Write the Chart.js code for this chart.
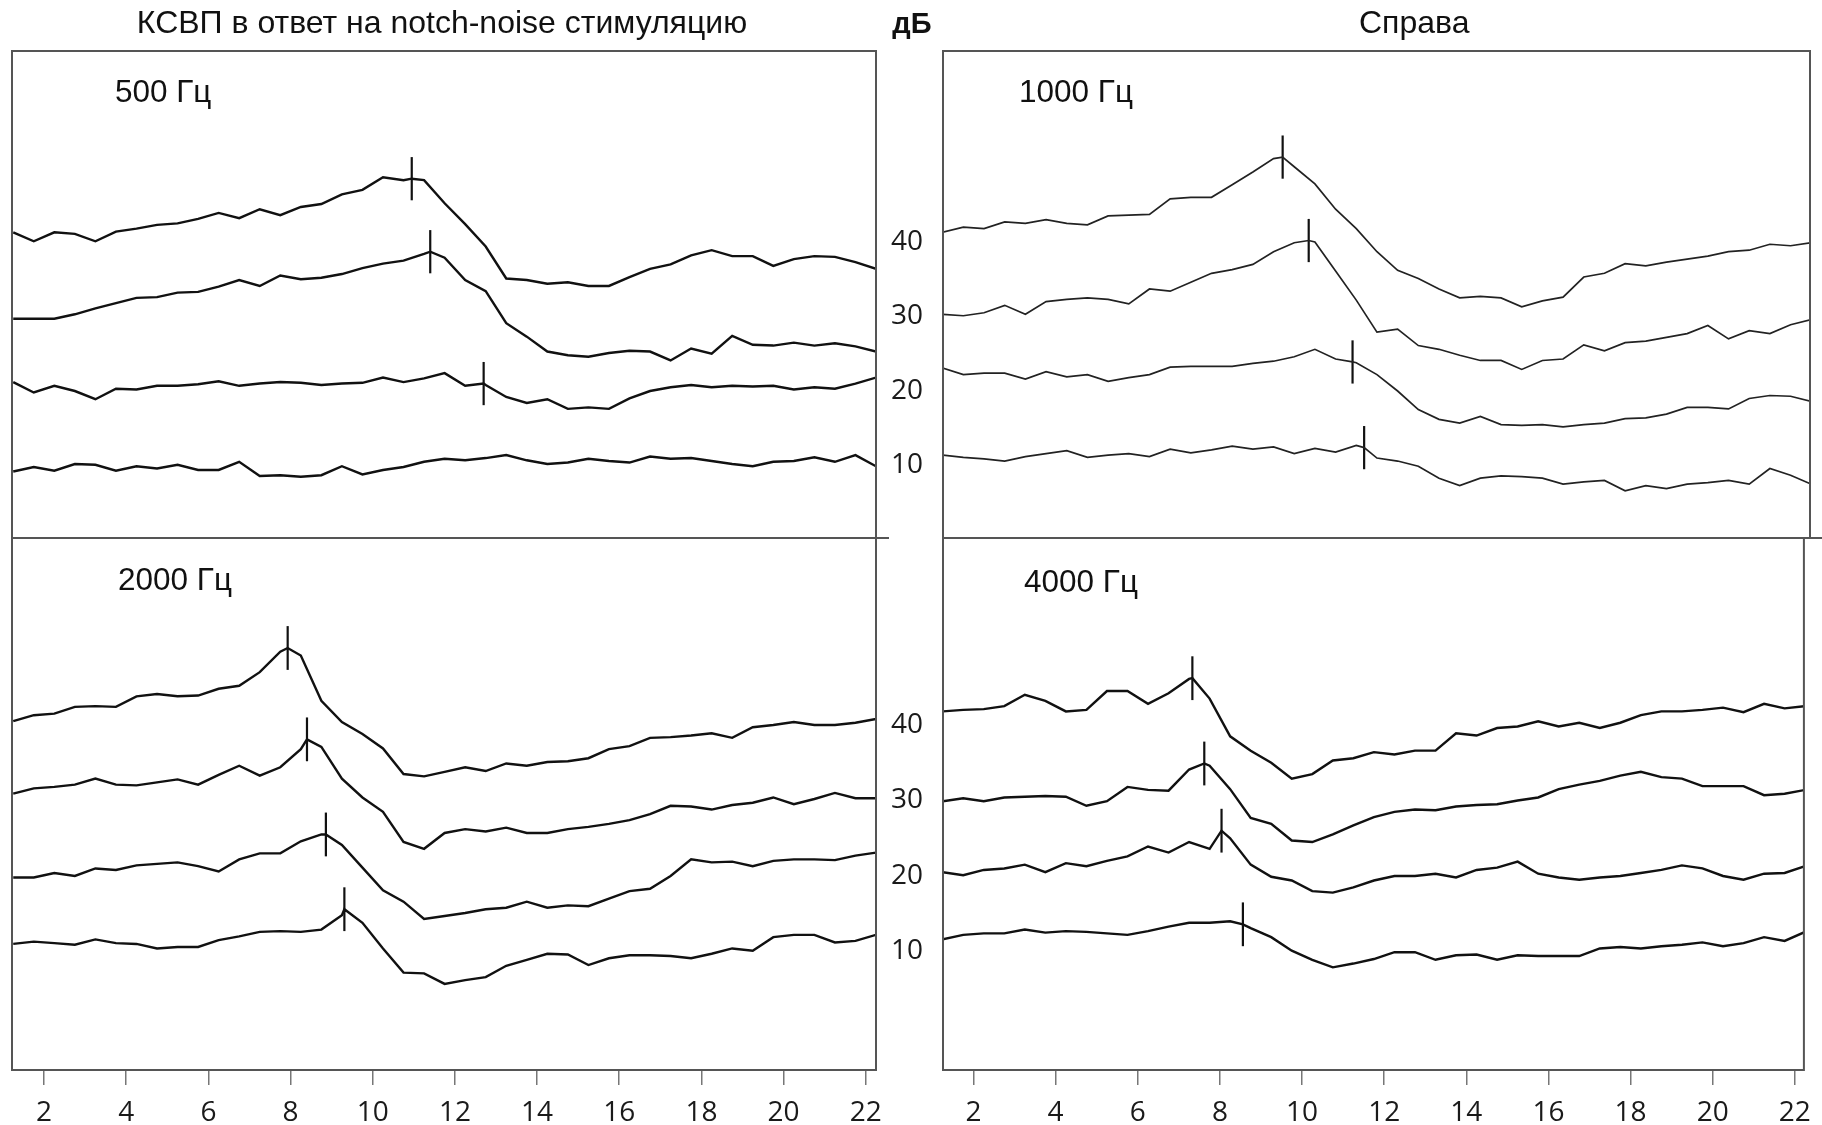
<!DOCTYPE html>
<html>
<head>
<meta charset="utf-8">
<script src="https://cdn.jsdelivr.net/npm/chart.js@4.4.1/dist/chart.umd.min.js"></script>
<style>
  html, body { margin: 0; padding: 0; background: #fff; }
  body { width: 1822px; height: 1125px; position: relative; overflow: hidden; font-family: "Liberation Sans", Arial, sans-serif; color: #111; }
  canvas { position: absolute; }
  .lbl { position: absolute; font-size: 32px; line-height: 32px; white-space: nowrap; }
  .hz { font-size: 31.5px; line-height: 31.5px; }
</style>
</head>
<body>
<canvas id="c500" width="900" height="527" style="left:0;top:31px"></canvas>
<canvas id="c1000" width="942" height="527" style="left:880px;top:31px"></canvas>
<canvas id="c2000" width="900" height="607" style="left:0;top:518px"></canvas>
<canvas id="c4000" width="942" height="607" style="left:880px;top:518px"></canvas>

<div class="lbl" style="left:442px;top:6px;transform:translateX(-50%)">КСВП в ответ на notch-noise стимуляцию</div>
<div class="lbl" style="left:912px;top:9px;transform:translateX(-50%);font-weight:bold;font-size:29px;line-height:29px">дБ</div>
<div class="lbl" style="left:1359px;top:6px">Справа</div>
<div class="lbl hz" style="left:115px;top:76px">500 Гц</div>
<div class="lbl hz" style="left:1019px;top:76px">1000 Гц</div>
<div class="lbl hz" style="left:118px;top:564px">2000 Гц</div>
<div class="lbl hz" style="left:1024px;top:566px">4000 Гц</div>

<script>
// latency, ms
const ms = [1.25, 1.75, 2.25, 2.75, 3.25, 3.75, 4.25, 4.75, 5.25, 5.75, 6.25, 6.75, 7.25, 7.75, 8.25, 8.75, 9.25, 9.75, 10.25, 10.75, 11.25, 11.75, 12.25, 12.75, 13.25, 13.75, 14.25, 14.75, 15.25, 15.75, 16.25, 16.75, 17.25, 17.75, 18.25, 18.75, 19.25, 19.75, 20.25, 20.75, 21.25, 21.75, 22.25];
const msTicks = [2, 4, 6, 8, 10, 12, 14, 16, 18, 20, 22];
const dbTicks = [10, 20, 30, 40];

// 500 Hz traces (40, 30, 20, 10 dB)
const hz500_40 = [41.3, 40.1, 41.3, 41.1, 40.1, 41.4, 41.8, 42.3, 42.5, 43.1, 43.9, 43.2, 44.4, 43.6, 44.7, 45.1, 46.4, 47.0, 48.7, 48.3, 48.3, 45.2, 42.4, 39.4, 35.1, 34.9, 34.4, 34.6, 34.1, 34.1, 35.3, 36.4, 37.0, 38.2, 38.9, 38.1, 38.1, 36.8, 37.7, 38.1, 38.0, 37.3, 36.4];
const hz500_30 = [29.7, 29.7, 29.7, 30.3, 31.1, 31.8, 32.5, 32.6, 33.2, 33.3, 34.0, 34.9, 34.1, 35.5, 35.0, 35.2, 35.7, 36.5, 37.1, 37.5, 38.4, 37.9, 34.9, 33.4, 29.1, 27.3, 25.3, 24.8, 24.6, 25.1, 25.4, 25.3, 24.1, 25.7, 25.0, 27.4, 26.2, 26.1, 26.5, 26.1, 26.4, 26.0, 25.3];
const hz500_20 = [21.2, 19.8, 20.7, 20.0, 18.9, 20.3, 20.2, 20.7, 20.7, 20.9, 21.3, 20.7, 21.0, 21.2, 21.1, 20.8, 21.0, 21.1, 21.8, 21.2, 21.7, 22.4, 20.7, 20.8, 19.2, 18.4, 18.9, 17.6, 17.8, 17.6, 19.0, 20.0, 20.5, 20.8, 20.5, 20.7, 20.6, 20.7, 20.2, 20.5, 20.3, 21.0, 21.8];
const hz500_10 = [9.2, 9.8, 9.3, 10.2, 10.1, 9.3, 9.9, 9.6, 10.1, 9.4, 9.4, 10.5, 8.6, 8.7, 8.5, 8.7, 9.9, 8.8, 9.4, 9.8, 10.5, 10.9, 10.7, 11.0, 11.4, 10.7, 10.2, 10.4, 10.9, 10.6, 10.4, 11.2, 10.9, 11.0, 10.6, 10.2, 9.9, 10.5, 10.6, 11.1, 10.5, 11.4, 9.9];
const peakMs500 = [10.95, 11.40, 12.70];
const peakDb500 = [48.5, 38.7, 21.0];

// 1000 Hz traces
const hz1000_40 = [41.3, 42.0, 41.8, 42.7, 42.5, 43.0, 42.5, 42.3, 43.5, 43.6, 43.7, 45.8, 46.0, 46.0, 47.7, 49.4, 51.2, 50.1, 47.8, 44.4, 41.8, 38.7, 36.2, 35.1, 33.7, 32.5, 32.7, 32.5, 31.3, 32.1, 32.6, 35.3, 35.8, 37.1, 36.8, 37.3, 37.7, 38.1, 38.7, 38.9, 39.7, 39.5, 39.9];
const hz1000_30 = [30.3, 30.1, 30.5, 31.5, 30.3, 32.0, 32.3, 32.5, 32.3, 31.7, 33.7, 33.4, 34.6, 35.8, 36.3, 37.0, 38.7, 39.9, 40.0, 36.1, 32.2, 27.9, 28.3, 26.1, 25.6, 24.8, 24.1, 24.1, 22.9, 24.1, 24.3, 26.2, 25.4, 26.5, 26.7, 27.2, 27.7, 28.8, 27.0, 28.1, 27.7, 28.9, 29.6];
const hz1000_20 = [23.1, 22.2, 22.4, 22.4, 21.6, 22.6, 21.9, 22.2, 21.3, 21.8, 22.2, 23.2, 23.3, 23.3, 23.3, 23.7, 24.0, 24.6, 25.6, 24.3, 23.8, 22.2, 20.0, 17.5, 16.2, 15.7, 16.6, 15.5, 15.4, 15.5, 15.2, 15.5, 15.7, 16.3, 16.4, 16.9, 17.8, 17.8, 17.6, 19.0, 19.4, 19.3, 18.6];
const hz1000_10 = [11.4, 11.1, 10.9, 10.6, 11.2, 11.6, 12.0, 11.1, 11.4, 11.6, 11.2, 12.2, 11.7, 12.1, 12.6, 12.2, 12.5, 11.6, 12.3, 11.8, 12.7, 11.0, 10.6, 9.9, 8.3, 7.3, 8.3, 8.6, 8.5, 8.3, 7.5, 7.8, 8.0, 6.6, 7.3, 6.9, 7.5, 7.7, 8.0, 7.5, 9.6, 8.7, 7.5];
const peakMs1000 = [9.47, 10.10, 11.16, 11.44];
const peakDb1000 = [51.4, 40.2, 23.9, 12.4];

// 2000 Hz traces
const hz2000_40 = [40.5, 41.3, 41.5, 42.4, 42.5, 42.4, 43.8, 44.1, 43.8, 43.9, 44.8, 45.2, 47.0, 49.7, 49.2, 43.2, 40.4, 38.8, 36.9, 33.5, 33.2, 33.8, 34.4, 33.9, 34.9, 34.6, 35.1, 35.2, 35.6, 36.8, 37.2, 38.3, 38.4, 38.6, 38.9, 38.3, 39.7, 40.0, 40.4, 40.0, 40.0, 40.3, 40.8];
const hz2000_30 = [30.9, 31.6, 31.8, 32.1, 32.9, 32.1, 32.0, 32.4, 32.8, 32.1, 33.4, 34.6, 33.3, 34.4, 36.8, 37.1, 32.9, 30.4, 28.5, 24.5, 23.6, 25.7, 26.2, 25.9, 26.4, 25.7, 25.7, 26.2, 26.5, 26.9, 27.4, 28.2, 29.3, 29.2, 28.8, 29.4, 29.7, 30.4, 29.5, 30.2, 31.0, 30.3, 30.3];
const hz2000_20 = [19.8, 19.8, 20.4, 20.0, 21.0, 20.8, 21.4, 21.6, 21.8, 21.3, 20.6, 22.2, 23.0, 23.0, 24.6, 25.5, 24.1, 21.1, 18.1, 16.6, 14.3, 14.7, 15.1, 15.6, 15.8, 16.6, 15.8, 16.1, 16.0, 17.0, 18.0, 18.3, 20.0, 22.2, 21.8, 21.9, 21.3, 22.0, 22.2, 22.2, 22.1, 22.7, 23.1];
const hz2000_10 = [11.0, 11.3, 11.1, 10.9, 11.6, 11.1, 11.0, 10.4, 10.6, 10.6, 11.5, 12.0, 12.6, 12.7, 12.6, 12.9, 14.8, 13.8, 10.4, 7.2, 7.1, 5.7, 6.2, 6.6, 8.1, 8.9, 9.7, 9.6, 8.2, 9.1, 9.5, 9.5, 9.4, 9.1, 9.7, 10.4, 10.1, 11.9, 12.2, 12.2, 11.2, 11.4, 12.2];
const peakMs2000 = [7.93, 8.40, 8.86, 9.31];
const peakDb2000 = [50.2, 38.1, 25.5, 15.6];

// 4000 Hz traces
const hz4000_40 = [41.8, 42.0, 42.1, 42.5, 44.0, 43.2, 41.8, 42.0, 44.5, 44.5, 42.8, 44.2, 46.1, 43.5, 38.5, 36.6, 35.0, 32.9, 33.5, 35.3, 35.6, 36.4, 36.1, 36.6, 36.6, 38.9, 38.6, 39.6, 39.8, 40.5, 39.8, 40.3, 39.6, 40.3, 41.3, 41.8, 41.8, 42.0, 42.3, 41.7, 42.8, 42.2, 42.5];
const hz4000_30 = [29.9, 30.3, 29.9, 30.4, 30.5, 30.6, 30.5, 29.3, 29.9, 31.8, 31.4, 31.3, 34.1, 34.6, 31.5, 27.7, 26.9, 24.7, 24.5, 25.5, 26.7, 27.8, 28.5, 28.8, 28.7, 29.2, 29.4, 29.5, 30.0, 30.4, 31.5, 32.1, 32.6, 33.3, 33.8, 33.1, 32.9, 31.9, 31.9, 31.9, 30.7, 30.9, 31.4];
const hz4000_20 = [20.5, 20.1, 20.8, 21.0, 21.5, 20.5, 21.7, 21.3, 22.0, 22.6, 23.9, 23.1, 24.5, 23.6, 25.0, 21.5, 19.9, 19.4, 18.0, 17.8, 18.5, 19.4, 20.0, 20.0, 20.3, 19.8, 20.8, 21.1, 21.9, 20.3, 19.8, 19.5, 19.8, 20.0, 20.4, 20.8, 21.4, 21.0, 20.0, 19.5, 20.3, 20.4, 21.3];
const hz4000_10 = [11.6, 12.2, 12.4, 12.4, 12.9, 12.5, 12.7, 12.6, 12.4, 12.2, 12.7, 13.3, 13.8, 13.8, 14.0, 13.1, 11.9, 10.1, 8.9, 7.9, 8.4, 9.0, 9.9, 9.9, 8.9, 9.5, 9.6, 8.9, 9.5, 9.4, 9.4, 9.4, 10.4, 10.6, 10.4, 10.7, 10.9, 11.2, 10.7, 11.1, 11.9, 11.4, 12.6];
const peakMs4000 = [7.33, 7.62, 8.04, 8.56];
const peakDb4000 = [46.2, 34.9, 26.0, 13.6];

const MARK = 2.9;  // half height of the peak marker, dB units
const tickFont = { family: '"Open Sans", "DejaVu Sans", sans-serif', size: 28 };

// box round the plot area, plus the divider that runs a bit past it
const frame = {
  id: 'frame',
  afterDraw(chart, args, opts) {
    const { ctx, chartArea: a } = chart;
    ctx.save();
    ctx.strokeStyle = '#555';
    ctx.lineWidth = 2;
    ctx.strokeRect(a.left, a.top, a.right - a.left, a.bottom - a.top);
    if (opts.extend) {
      ctx.beginPath();
      ctx.moveTo(a.right, a.bottom);
      ctx.lineTo(a.right + opts.extend, a.bottom);
      ctx.stroke();
    }
    ctx.restore();
  }
};

function panel(id, traces, peakMs, peakDb, opt) {
  const datasets = traces.map((vals, i) => {
    const pts = ms.map((x, j) => ({ x, y: vals[j] }));
    if (i < peakMs.length) {
      pts.push({ x: peakMs[i], y: peakDb[i] });
      pts.sort((a, b) => a.x - b.x);
    }
    return { data: pts, borderColor: opt.color, borderWidth: opt.width, pointRadius: 0, tension: 0, fill: false };
  });
  peakMs.forEach((x, i) => {
    datasets.push({ data: [{ x, y: peakDb[i] - MARK }, { x, y: peakDb[i] + MARK }], borderColor: '#111', borderWidth: 2.2, pointRadius: 0 });
  });

  return new Chart(document.getElementById(id), {
    type: 'line',
    data: { datasets },
    options: {
      responsive: false,
      animation: false,
      events: [],
      layout: { padding: opt.pad },
      plugins: { legend: { display: false }, tooltip: { enabled: false }, frame: { extend: opt.extend } },
      scales: {
        x: {
          type: 'linear', min: opt.xMin, max: opt.xMax, display: opt.bottom,
          afterBuildTicks: s => { s.ticks = msTicks.map(value => ({ value })); },
          afterFit: s => { if (opt.bottom) s.height = 55; else s.height = 0; },
          grid: { drawOnChartArea: false, drawTicks: true, tickLength: 15, color: '#777', lineWidth: 1.5 },
          border: { display: false },
          ticks: { font: tickFont, color: '#1a1a1a', padding: 11, maxRotation: 0, autoSkip: false }
        },
        y: {
          type: 'linear', min: opt.yMin, max: opt.yMax, display: opt.left, position: 'left',
          afterBuildTicks: s => { s.ticks = dbTicks.map(value => ({ value })); },
          afterFit: s => {
            s.width = opt.left ? 63 : 0;
            s.paddingTop = 0;
            s.paddingBottom = 0;
          },
          grid: { display: false, drawTicks: false },
          border: { display: false },
          ticks: { font: tickFont, color: '#1a1a1a', padding: 20 }
        }
      }
    },
    plugins: [frame]
  });
}

const topRange = { yMin: 0.27, yMax: 65.64 };
const botRange = { yMin: -5.7, yMax: 64.77 };

panel('c500', [hz500_40, hz500_30, hz500_20, hz500_10], peakMs500, peakDb500, {
  ...topRange, xMin: 1.22, xMax: 22.25, bottom: false, left: false, extend: 13,
  color: '#111', width: 2.4, pad: { left: 12, right: 24, top: 20, bottom: 20 }
});
panel('c1000', [hz1000_40, hz1000_30, hz1000_20, hz1000_10], peakMs1000, peakDb1000, {
  ...topRange, xMin: 1.258, xMax: 22.22, bottom: false, left: true, extend: 12,
  color: '#222', width: 1.7, pad: { left: 0, right: 12, top: 20, bottom: 20 }
});
panel('c2000', [hz2000_40, hz2000_30, hz2000_20, hz2000_10], peakMs2000, peakDb2000, {
  ...botRange, xMin: 1.22, xMax: 22.25, bottom: true, left: false, extend: 0,
  color: '#111', width: 2.4, pad: { left: 12, right: 24, top: 20, bottom: 0 }
});
panel('c4000', [hz4000_40, hz4000_30, hz4000_20, hz4000_10], peakMs4000, peakDb4000, {
  ...botRange, xMin: 1.258, xMax: 22.22, bottom: true, left: true, extend: 0,
  color: '#111', width: 2.4, pad: { left: 0, right: 12, top: 20, bottom: 0 }
});
</script>
</body>
</html>
